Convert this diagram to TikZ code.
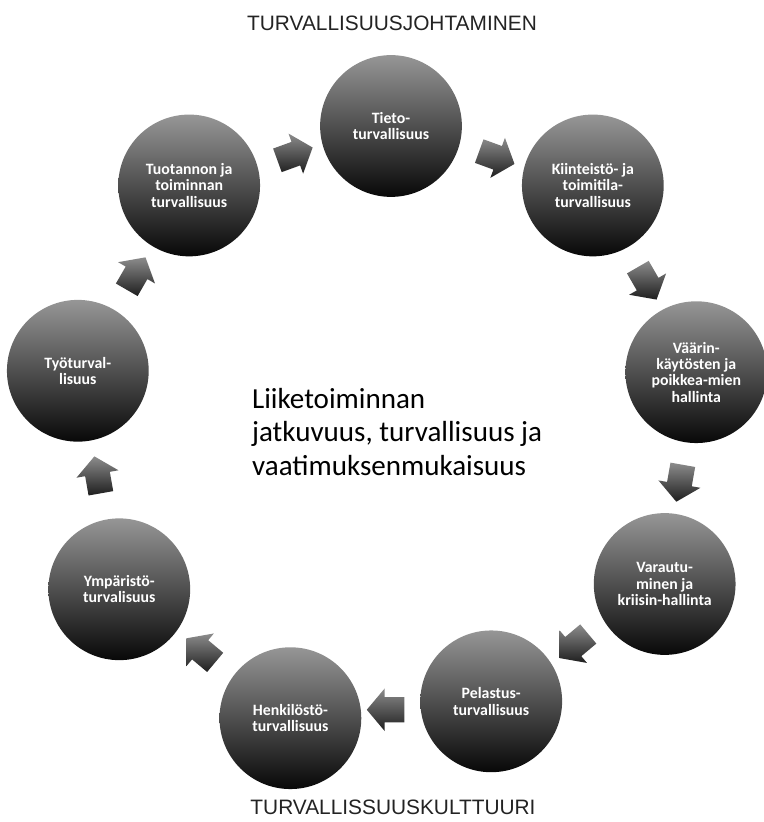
\documentclass[tikz,border=0pt]{standalone}
\usepackage{fontspec}
\setmainfont{Carlito}
\newfontfamily\capsfont{Liberation Sans}
\usetikzlibrary{shapes.arrows}
\definecolor{areatop}{RGB}{150,150,150}
\definecolor{areabot}{RGB}{8,8,8}
\definecolor{flowtop}{RGB}{140,140,140}
\definecolor{flowbot}{RGB}{30,30,30}
\definecolor{capsgray}{RGB}{35,35,35}
\tikzset{
  area/.style={circle, minimum size=121pt, inner sep=0pt,
    top color=areatop, bottom color=areabot, text=white, align=center,
    font=\bfseries\fontsize{13.5}{14}\selectfont},
  flow/.style={single arrow, minimum height=32pt, inner xsep=0pt, inner ysep=10.5pt,
    single arrow head extend=7.5pt, single arrow tip angle=100,
    top color=flowtop, bottom color=flowbot},
  caps/.style={text=capsgray, font=\capsfont\fontsize{17.8}{20}\selectfont},
}
\begin{document}
\begin{tikzpicture}[x=0.03cm, y=0.03cm]
      \useasboundingbox (-391,-396) rectangle (372,426);
      \draw
        (90:300) node[area] (tieto){Tieto-\\turvallisuus}
        (50:314) node[area] (kiint){Kiinteistö- ja\\toimitila-\\turvallisuus}
        (10:310) node[area] (vaarin){Väärin-\\käytösten ja\\poikkea-mien\\hallinta}
        (-30:316) node[area] (varaut){Varautu-\\minen ja\\kriisin-hallinta}
        (-70:293) node[area] (pelast){Pelastus-\\turvallisuus}
        (-109:309) node[area] (henk){Henkilöstö-\\turvallisuus}
        (-149:317) node[area] (ymp){Ympäristö-\\turvalisuus}
        (170:318) node[area] (tyo){Työturval-\\lisuus}
        (130:314) node[area] (tuot){Tuotannon ja\\toiminnan\\turvallisuus};
      \node[anchor=west, align=left, font=\fontsize{24.8}{28.5}\selectfont] (core) at (-143,-6)
        {Liiketoiminnan\\jatkuvuus, turvallisuus ja\\vaatimuksenmukaisuus};
      \node[caps] (johto) at (1,403) {TURVALLISUUSJOHTAMINEN};
      \node[caps] (kult) at (2,-381) {TURVALLISSUUSKULTTUURI};
      \begin{scope}
        \path (tuot) -- node[flow, rotate=20] (f1){} (tieto);
        \path (tieto) -- node[flow, rotate=-20] (f2){} (kiint);
        \path (kiint) -- node[flow, rotate=-60] (f3){} (vaarin);
        \path (vaarin) -- node[flow, rotate=-100] (f4){} (varaut);
        \path (varaut) -- node[flow, rotate=-140] (f5){} (pelast);
        \path (pelast) -- node[flow, rotate=180] (f6){} (henk);
        \path (henk) -- node[flow, rotate=140] (f7){} (ymp);
        \path (ymp) -- node[flow, rotate=100] (f8){} (tyo);
        \path (tyo) -- node[flow, rotate=60] (f9){} (tuot);
      \end{scope}
    \end{tikzpicture}
\end{document}
